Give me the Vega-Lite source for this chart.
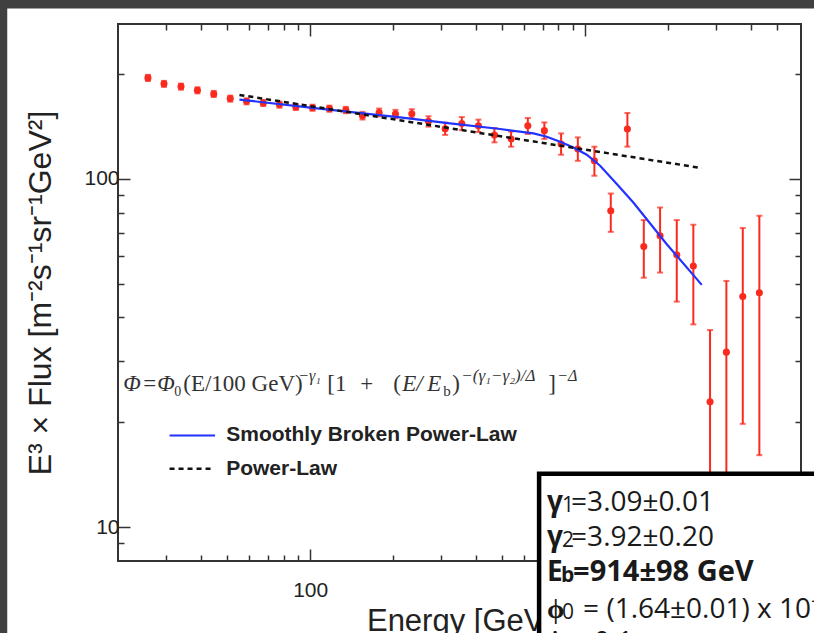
{
  "$schema": "https://vega.github.io/schema/vega-lite/v6.json",
  "width": 683,
  "height": 537,
  "autosize": "none",
  "padding": {"left": 118, "top": 24, "right": 13, "bottom": 72},
  "background": "white",
  "config": {"view": {"stroke": "#333333", "strokeWidth": 2}, "axis": {"grid": false}},
  "data": {"values": [{}]},
  "datasets": {
    "pts": [
      {"E": 25.7, "F": 194.7, "lo": 190.8, "hi": 198.6},
      {"E": 29.4, "F": 187.2, "lo": 183.5, "hi": 190.9},
      {"E": 33.9, "F": 183.8, "lo": 180.1, "hi": 187.5},
      {"E": 38.9, "F": 179.4, "lo": 175.8, "hi": 183.0},
      {"E": 44.6, "F": 175.1, "lo": 171.6, "hi": 178.6},
      {"E": 51.2, "F": 169.8, "lo": 166.4, "hi": 173.2},
      {"E": 58.7, "F": 166.8, "lo": 163.5, "hi": 170.1},
      {"E": 67.5, "F": 165.0, "lo": 161.7, "hi": 168.3},
      {"E": 77.3, "F": 163.2, "lo": 159.9, "hi": 166.5},
      {"E": 88.7, "F": 160.7, "lo": 157.5, "hi": 163.9},
      {"E": 102, "F": 159.9, "lo": 156.7, "hi": 163.1},
      {"E": 117.5, "F": 158.9, "lo": 155.7, "hi": 162.1},
      {"E": 134.8, "F": 157.5, "lo": 154.2, "hi": 160.8},
      {"E": 155, "F": 151.7, "lo": 147.9, "hi": 155.5},
      {"E": 178.2, "F": 155.0, "lo": 151.0, "hi": 159.0},
      {"E": 204.3, "F": 153.4, "lo": 149.2, "hi": 157.6},
      {"E": 234.3, "F": 153.7, "lo": 149.1, "hi": 158.3},
      {"E": 269.3, "F": 146.1, "lo": 141.1, "hi": 151.1},
      {"E": 309.7, "F": 139.2, "lo": 133.6, "hi": 144.8},
      {"E": 356.1, "F": 144.1, "lo": 137.9, "hi": 150.3},
      {"E": 409.3, "F": 142.0, "lo": 136.2, "hi": 147.8},
      {"E": 468, "F": 133.5, "lo": 127.2, "hi": 139.8},
      {"E": 538, "F": 130.1, "lo": 123.6, "hi": 136.6},
      {"E": 619, "F": 142.0, "lo": 134.4, "hi": 149.4},
      {"E": 711, "F": 137.4, "lo": 130.1, "hi": 145.1},
      {"E": 818, "F": 125.8, "lo": 117.2, "hi": 134.9},
      {"E": 941, "F": 121.7, "lo": 112.6, "hi": 131.4},
      {"E": 1081, "F": 112.6, "lo": 102.0, "hi": 123.6},
      {"E": 1240, "F": 80.9, "lo": 70.4, "hi": 90.7},
      {"E": 1425, "F": 138.9, "lo": 123.6, "hi": 154.4},
      {"E": 1635, "F": 63.9, "lo": 52.0, "hi": 76.1},
      {"E": 1874, "F": 68.6, "lo": 53.8, "hi": 82.7},
      {"E": 2155, "F": 60.5, "lo": 44.4, "hi": 76.1},
      {"E": 2476, "F": 56.2, "lo": 38.2, "hi": 73.8},
      {"E": 2848, "F": 22.9, "lo": 9.0, "hi": 36.8},
      {"E": 3265, "F": 31.8, "lo": 12.7, "hi": 50.9},
      {"E": 3746, "F": 45.9, "lo": 19.8, "hi": 72.2},
      {"E": 4304, "F": 47.1, "lo": 16.1, "hi": 78.3}
    ],
    "sbpl": [
      {"E": 55.3, "F": 168.7},
      {"E": 100, "F": 160.0},
      {"E": 212.4, "F": 150.0},
      {"E": 322.9, "F": 144.2},
      {"E": 490.9, "F": 138.9},
      {"E": 648.6, "F": 134.9},
      {"E": 725.6, "F": 132.0},
      {"E": 811.1, "F": 127.7},
      {"E": 907.1, "F": 123.0},
      {"E": 1014, "F": 117.2},
      {"E": 1134, "F": 109.0},
      {"E": 1304, "F": 96.6},
      {"E": 1498, "F": 85.5},
      {"E": 1982, "F": 64.9},
      {"E": 2657, "F": 49.6}
    ],
    "pl": [
      {"E": 55.3, "F": 174.0},
      {"E": 2657, "F": 107.3}
    ]
  },
  "resolve": {"axis": {"x": "independent", "y": "independent"}},
  "layer": [
    {
      "mark": {"type": "rect", "fill": "#404040"},
      "encoding": {
        "x": {"datum": 1, "type": "quantitative", "scale": {"type": "log", "domain": [20, 6100], "nice": false}, "axis": null},
        "x2": {"datum": 7.91},
        "y": {"datum": 2000, "type": "quantitative", "scale": {"type": "log", "domain": [8, 278], "nice": false}, "axis": null},
        "y2": {"datum": 0.1}
      }
    },
    {
      "mark": {"type": "rect", "fill": "#404040"},
      "encoding": {
        "x": {"datum": 1, "type": "quantitative", "scale": {"type": "log", "domain": [20, 6100], "nice": false}, "axis": null},
        "x2": {"datum": 1000000},
        "y": {"datum": 2000, "type": "quantitative", "scale": {"type": "log", "domain": [8, 278], "nice": false}, "axis": null},
        "y2": {"datum": 307.9}
      }
    },
    {
      "data": {"name": "pts"},
      "mark": {"type": "errorbar", "ticks": true, "color": "#fa2a1e", "thickness": 2, "size": 6},
      "encoding": {
        "x": {"field": "E", "type": "quantitative", "scale": {"type": "log", "domain": [20, 6100], "nice": false},
          "axis": {"orient": "bottom", "values": [30, 40, 50, 60, 70, 80, 90, 100, 200, 300, 400, 500, 600, 700, 800, 900, 1000, 2000, 3000, 4000, 5000],
            "labelExpr": "datum.value == 100 ? '100' : (datum.value == 1000 ? '1000' : '')",
            "tickSize": {"condition": {"test": "datum.value == 100 || datum.value == 1000", "value": -12}, "value": -6},
            "tickColor": "#333333", "tickWidth": 1.5, "domain": false, "grid": false,
            "labelFont": "Liberation Sans", "labelFontSize": 21, "labelColor": "#222222", "labelPadding": 30, "labelOverlap": false, "labelFlush": false, "labelBound": false,
            "title": "Energy [GeV]", "titleFont": "Liberation Sans", "titleFontSize": 31, "titleFontWeight": "normal", "titleColor": "#222222", "titlePadding": 0}},
        "y": {"field": "lo", "type": "quantitative", "scale": {"type": "log", "domain": [8, 278], "nice": false},
          "axis": {"orient": "left", "values": [9, 10, 20, 30, 40, 50, 60, 70, 80, 90, 100, 200],
            "labelExpr": "datum.value == 100 ? '100' : (datum.value == 10 ? '10' : '')",
            "tickSize": {"condition": {"test": "datum.value == 100 || datum.value == 10", "value": -12}, "value": -6},
            "tickColor": "#333333", "tickWidth": 1.5, "domain": false, "grid": false,
            "labelFont": "Liberation Sans", "labelFontSize": 21, "labelColor": "#222222", "labelPadding": 11, "labelOverlap": false, "labelFlush": false, "labelBound": false,
            "title": "E³ × Flux [m⁻²s⁻¹sr⁻¹GeV²]", "titleFont": "Liberation Sans", "titleFontSize": 32, "titleFontWeight": "normal", "titleColor": "#222222", "titlePadding": 26}},
        "y2": {"field": "hi"}
      }
    },
    {
      "data": {"name": "pts"},
      "mark": {"type": "point", "filled": true, "size": 50, "color": "#fa2a1e", "opacity": 1},
      "encoding": {
        "x": {"field": "E", "type": "quantitative", "scale": {"type": "log", "domain": [20, 6100], "nice": false},
          "axis": {"orient": "top", "values": [30, 40, 50, 60, 70, 80, 90, 100, 200, 300, 400, 500, 600, 700, 800, 900, 1000, 2000, 3000, 4000, 5000],
            "labels": false, "title": null, "domain": false, "grid": false,
            "tickSize": {"condition": {"test": "datum.value == 100 || datum.value == 1000", "value": -12}, "value": -6},
            "tickColor": "#333333", "tickWidth": 1.5}},
        "y": {"field": "F", "type": "quantitative", "scale": {"type": "log", "domain": [8, 278], "nice": false},
          "axis": {"orient": "right", "values": [9, 10, 20, 30, 40, 50, 60, 70, 80, 90, 100, 200],
            "labels": false, "title": null, "domain": false, "grid": false,
            "tickSize": {"condition": {"test": "datum.value == 100 || datum.value == 10", "value": -12}, "value": -6},
            "tickColor": "#333333", "tickWidth": 1.5}}
      }
    },
    {
      "data": {"name": "sbpl"},
      "mark": {"type": "line", "color": "#2233ff", "strokeWidth": 2.2},
      "encoding": {
        "x": {"field": "E", "type": "quantitative", "scale": {"type": "log", "domain": [20, 6100], "nice": false}, "axis": null},
        "y": {"field": "F", "type": "quantitative", "scale": {"type": "log", "domain": [8, 278], "nice": false}, "axis": null}
      }
    },
    {
      "data": {"name": "pl"},
      "mark": {"type": "line", "color": "#111111", "strokeWidth": 2.5, "strokeDash": [5, 4]},
      "encoding": {
        "x": {"field": "E", "type": "quantitative", "scale": {"type": "log", "domain": [20, 6100], "nice": false}, "axis": null},
        "y": {"field": "F", "type": "quantitative", "scale": {"type": "log", "domain": [8, 278], "nice": false}, "axis": null}
      }
    },
    {
      "mark": {"type": "rule", "color": "#2233ff", "strokeWidth": 2},
      "encoding": {
        "x": {"datum": 30.8, "type": "quantitative", "scale": {"type": "log", "domain": [20, 6100], "nice": false}, "axis": null},
        "x2": {"datum": 45.1},
        "y": {"datum": 18.34, "type": "quantitative", "scale": {"type": "log", "domain": [8, 278], "nice": false}, "axis": null}
      }
    },
    {
      "mark": {"type": "rule", "color": "#111111", "strokeWidth": 2.5, "strokeDash": [5, 4]},
      "encoding": {
        "x": {"datum": 30.8, "type": "quantitative", "scale": {"type": "log", "domain": [20, 6100], "nice": false}, "axis": null},
        "x2": {"datum": 43.9},
        "y": {"datum": 14.71, "type": "quantitative", "scale": {"type": "log", "domain": [8, 278], "nice": false}, "axis": null}
      }
    },
    {
      "mark": {"type": "text", "text": "Smoothly Broken Power-Law", "align": "left", "baseline": "middle", "font": "Liberation Sans", "fontSize": 21, "fontWeight": "bold", "color": "#222222"},
      "encoding": {
        "x": {"datum": 49.5, "type": "quantitative", "scale": {"type": "log", "domain": [20, 6100], "nice": false}, "axis": null},
        "y": {"datum": 18.34, "type": "quantitative", "scale": {"type": "log", "domain": [8, 278], "nice": false}, "axis": null}
      }
    },
    {
      "mark": {"type": "text", "text": "Power-Law", "align": "left", "baseline": "middle", "font": "Liberation Sans", "fontSize": 21, "fontWeight": "bold", "color": "#222222"},
      "encoding": {
        "x": {"datum": 49.5, "type": "quantitative", "scale": {"type": "log", "domain": [20, 6100], "nice": false}, "axis": null},
        "y": {"datum": 14.71, "type": "quantitative", "scale": {"type": "log", "domain": [8, 278], "nice": false}, "axis": null}
      }
    },
    {
      "mark": {"type": "text", "text": "Φ", "align": "left", "baseline": "alphabetic", "font": "Liberation Serif", "fontSize": 23, "fontStyle": "italic", "color": "#333333", "dx": -7},
      "encoding": {
        "x": {"datum": 22.16, "type": "quantitative", "scale": {"type": "log", "domain": [20, 6100], "nice": false}, "axis": null},
        "y": {"datum": 24.59, "type": "quantitative", "scale": {"type": "log", "domain": [8, 278], "nice": false}, "axis": null}
      }
    },
    {
      "mark": {"type": "text", "text": "=", "align": "left", "baseline": "alphabetic", "font": "Liberation Serif", "fontSize": 23, "color": "#333333", "dx": 13},
      "encoding": {
        "x": {"datum": 22.16, "type": "quantitative", "scale": {"type": "log", "domain": [20, 6100], "nice": false}, "axis": null},
        "y": {"datum": 24.59, "type": "quantitative", "scale": {"type": "log", "domain": [8, 278], "nice": false}, "axis": null}
      }
    },
    {
      "mark": {"type": "text", "text": "Φ", "align": "left", "baseline": "alphabetic", "font": "Liberation Serif", "fontSize": 23, "fontStyle": "italic", "color": "#333333", "dx": 27},
      "encoding": {
        "x": {"datum": 22.16, "type": "quantitative", "scale": {"type": "log", "domain": [20, 6100], "nice": false}, "axis": null},
        "y": {"datum": 24.59, "type": "quantitative", "scale": {"type": "log", "domain": [8, 278], "nice": false}, "axis": null}
      }
    },
    {
      "mark": {"type": "text", "text": "0", "align": "left", "baseline": "alphabetic", "font": "Liberation Serif", "fontSize": 14, "color": "#333333", "dx": 44, "dy": 5},
      "encoding": {
        "x": {"datum": 22.16, "type": "quantitative", "scale": {"type": "log", "domain": [20, 6100], "nice": false}, "axis": null},
        "y": {"datum": 24.59, "type": "quantitative", "scale": {"type": "log", "domain": [8, 278], "nice": false}, "axis": null}
      }
    },
    {
      "mark": {"type": "text", "text": "(E/100 GeV)", "align": "left", "baseline": "alphabetic", "font": "Liberation Serif", "fontSize": 23, "color": "#333333", "dx": 53},
      "encoding": {
        "x": {"datum": 22.16, "type": "quantitative", "scale": {"type": "log", "domain": [20, 6100], "nice": false}, "axis": null},
        "y": {"datum": 24.59, "type": "quantitative", "scale": {"type": "log", "domain": [8, 278], "nice": false}, "axis": null}
      }
    },
    {
      "mark": {"type": "text", "text": "−γ₁", "align": "left", "baseline": "alphabetic", "font": "Liberation Serif", "fontSize": 16, "fontStyle": "italic", "color": "#333333", "dx": 168, "dy": -10},
      "encoding": {
        "x": {"datum": 22.16, "type": "quantitative", "scale": {"type": "log", "domain": [20, 6100], "nice": false}, "axis": null},
        "y": {"datum": 24.59, "type": "quantitative", "scale": {"type": "log", "domain": [8, 278], "nice": false}, "axis": null}
      }
    },
    {
      "mark": {"type": "text", "text": "[1", "align": "left", "baseline": "alphabetic", "font": "Liberation Serif", "fontSize": 23, "color": "#333333", "dx": 197},
      "encoding": {
        "x": {"datum": 22.16, "type": "quantitative", "scale": {"type": "log", "domain": [20, 6100], "nice": false}, "axis": null},
        "y": {"datum": 24.59, "type": "quantitative", "scale": {"type": "log", "domain": [8, 278], "nice": false}, "axis": null}
      }
    },
    {
      "mark": {"type": "text", "text": "+", "align": "left", "baseline": "alphabetic", "font": "Liberation Serif", "fontSize": 23, "color": "#333333", "dx": 230},
      "encoding": {
        "x": {"datum": 22.16, "type": "quantitative", "scale": {"type": "log", "domain": [20, 6100], "nice": false}, "axis": null},
        "y": {"datum": 24.59, "type": "quantitative", "scale": {"type": "log", "domain": [8, 278], "nice": false}, "axis": null}
      }
    },
    {
      "mark": {"type": "text", "text": "(", "align": "left", "baseline": "alphabetic", "font": "Liberation Serif", "fontSize": 23, "color": "#333333", "dx": 263},
      "encoding": {
        "x": {"datum": 22.16, "type": "quantitative", "scale": {"type": "log", "domain": [20, 6100], "nice": false}, "axis": null},
        "y": {"datum": 24.59, "type": "quantitative", "scale": {"type": "log", "domain": [8, 278], "nice": false}, "axis": null}
      }
    },
    {
      "mark": {"type": "text", "text": "E/", "align": "left", "baseline": "alphabetic", "font": "Liberation Serif", "fontSize": 23, "fontStyle": "italic", "color": "#333333", "dx": 272},
      "encoding": {
        "x": {"datum": 22.16, "type": "quantitative", "scale": {"type": "log", "domain": [20, 6100], "nice": false}, "axis": null},
        "y": {"datum": 24.59, "type": "quantitative", "scale": {"type": "log", "domain": [8, 278], "nice": false}, "axis": null}
      }
    },
    {
      "mark": {"type": "text", "text": "E", "align": "left", "baseline": "alphabetic", "font": "Liberation Serif", "fontSize": 23, "fontStyle": "italic", "color": "#333333", "dx": 297},
      "encoding": {
        "x": {"datum": 22.16, "type": "quantitative", "scale": {"type": "log", "domain": [20, 6100], "nice": false}, "axis": null},
        "y": {"datum": 24.59, "type": "quantitative", "scale": {"type": "log", "domain": [8, 278], "nice": false}, "axis": null}
      }
    },
    {
      "mark": {"type": "text", "text": "b", "align": "left", "baseline": "alphabetic", "font": "Liberation Serif", "fontSize": 15, "color": "#333333", "dx": 313, "dy": 5},
      "encoding": {
        "x": {"datum": 22.16, "type": "quantitative", "scale": {"type": "log", "domain": [20, 6100], "nice": false}, "axis": null},
        "y": {"datum": 24.59, "type": "quantitative", "scale": {"type": "log", "domain": [8, 278], "nice": false}, "axis": null}
      }
    },
    {
      "mark": {"type": "text", "text": ")", "align": "left", "baseline": "alphabetic", "font": "Liberation Serif", "fontSize": 23, "color": "#333333", "dx": 322},
      "encoding": {
        "x": {"datum": 22.16, "type": "quantitative", "scale": {"type": "log", "domain": [20, 6100], "nice": false}, "axis": null},
        "y": {"datum": 24.59, "type": "quantitative", "scale": {"type": "log", "domain": [8, 278], "nice": false}, "axis": null}
      }
    },
    {
      "mark": {"type": "text", "text": "−(γ₁−γ₂)/Δ", "align": "left", "baseline": "alphabetic", "font": "Liberation Serif", "fontSize": 17, "fontStyle": "italic", "color": "#333333", "dx": 331, "dy": -10},
      "encoding": {
        "x": {"datum": 22.16, "type": "quantitative", "scale": {"type": "log", "domain": [20, 6100], "nice": false}, "axis": null},
        "y": {"datum": 24.59, "type": "quantitative", "scale": {"type": "log", "domain": [8, 278], "nice": false}, "axis": null}
      }
    },
    {
      "mark": {"type": "text", "text": "]", "align": "left", "baseline": "alphabetic", "font": "Liberation Serif", "fontSize": 23, "color": "#333333", "dx": 418},
      "encoding": {
        "x": {"datum": 22.16, "type": "quantitative", "scale": {"type": "log", "domain": [20, 6100], "nice": false}, "axis": null},
        "y": {"datum": 24.59, "type": "quantitative", "scale": {"type": "log", "domain": [8, 278], "nice": false}, "axis": null}
      }
    },
    {
      "mark": {"type": "text", "text": "−Δ", "align": "left", "baseline": "alphabetic", "font": "Liberation Serif", "fontSize": 16, "fontStyle": "italic", "color": "#333333", "dx": 427, "dy": -10},
      "encoding": {
        "x": {"datum": 22.16, "type": "quantitative", "scale": {"type": "log", "domain": [20, 6100], "nice": false}, "axis": null},
        "y": {"datum": 24.59, "type": "quantitative", "scale": {"type": "log", "domain": [8, 278], "nice": false}, "axis": null}
      }
    },
    {
      "mark": {"type": "rect", "fill": "white", "stroke": "#000000", "strokeWidth": 4.5},
      "encoding": {
        "x": {"datum": 680.3, "type": "quantitative", "scale": {"type": "log", "domain": [20, 6100], "nice": false}, "axis": null},
        "x2": {"datum": 1000000},
        "y": {"datum": 14.25, "type": "quantitative", "scale": {"type": "log", "domain": [8, 278], "nice": false}, "axis": null},
        "y2": {"datum": 0.01}
      }
    },
    {
      "mark": {"type": "text", "text": "γ", "align": "left", "baseline": "alphabetic", "font": "Open Sans", "fontSize": 28, "fontWeight": "bold", "color": "#1a1a1a", "dx": 0},
      "encoding": {
        "x": {"datum": 727.5, "type": "quantitative", "scale": {"type": "log", "domain": [20, 6100], "nice": false}, "axis": null},
        "y": {"datum": 11.12, "type": "quantitative", "scale": {"type": "log", "domain": [8, 278], "nice": false}, "axis": null}
      }
    },
    {
      "mark": {"type": "text", "text": "1", "align": "left", "baseline": "alphabetic", "font": "Open Sans", "fontSize": 21, "color": "#1a1a1a", "dx": 15, "dy": 1},
      "encoding": {
        "x": {"datum": 727.5, "type": "quantitative", "scale": {"type": "log", "domain": [20, 6100], "nice": false}, "axis": null},
        "y": {"datum": 11.12, "type": "quantitative", "scale": {"type": "log", "domain": [8, 278], "nice": false}, "axis": null}
      }
    },
    {
      "mark": {"type": "text", "text": "=3.09±0.01", "align": "left", "baseline": "alphabetic", "font": "Open Sans", "fontSize": 28, "color": "#1a1a1a", "dx": 24},
      "encoding": {
        "x": {"datum": 727.5, "type": "quantitative", "scale": {"type": "log", "domain": [20, 6100], "nice": false}, "axis": null},
        "y": {"datum": 11.12, "type": "quantitative", "scale": {"type": "log", "domain": [8, 278], "nice": false}, "axis": null}
      }
    },
    {
      "mark": {"type": "text", "text": "γ", "align": "left", "baseline": "alphabetic", "font": "Open Sans", "fontSize": 28, "fontWeight": "bold", "color": "#1a1a1a", "dx": 0},
      "encoding": {
        "x": {"datum": 727.5, "type": "quantitative", "scale": {"type": "log", "domain": [20, 6100], "nice": false}, "axis": null},
        "y": {"datum": 8.82, "type": "quantitative", "scale": {"type": "log", "domain": [8, 278], "nice": false}, "axis": null}
      }
    },
    {
      "mark": {"type": "text", "text": "2", "align": "left", "baseline": "alphabetic", "font": "Open Sans", "fontSize": 21, "color": "#1a1a1a", "dx": 15, "dy": 1},
      "encoding": {
        "x": {"datum": 727.5, "type": "quantitative", "scale": {"type": "log", "domain": [20, 6100], "nice": false}, "axis": null},
        "y": {"datum": 8.82, "type": "quantitative", "scale": {"type": "log", "domain": [8, 278], "nice": false}, "axis": null}
      }
    },
    {
      "mark": {"type": "text", "text": "=3.92±0.20", "align": "left", "baseline": "alphabetic", "font": "Open Sans", "fontSize": 28, "color": "#1a1a1a", "dx": 24},
      "encoding": {
        "x": {"datum": 727.5, "type": "quantitative", "scale": {"type": "log", "domain": [20, 6100], "nice": false}, "axis": null},
        "y": {"datum": 8.82, "type": "quantitative", "scale": {"type": "log", "domain": [8, 278], "nice": false}, "axis": null}
      }
    },
    {
      "mark": {"type": "text", "text": "E", "align": "left", "baseline": "alphabetic", "font": "Open Sans", "fontSize": 28, "fontWeight": "bold", "color": "#1a1a1a", "dx": 0},
      "encoding": {
        "x": {"datum": 727.5, "type": "quantitative", "scale": {"type": "log", "domain": [20, 6100], "nice": false}, "axis": null},
        "y": {"datum": 6.99, "type": "quantitative", "scale": {"type": "log", "domain": [8, 278], "nice": false}, "axis": null}
      }
    },
    {
      "mark": {"type": "text", "text": "b", "align": "left", "baseline": "alphabetic", "font": "Open Sans", "fontSize": 21, "fontWeight": "bold", "color": "#1a1a1a", "dx": 14, "dy": 1},
      "encoding": {
        "x": {"datum": 727.5, "type": "quantitative", "scale": {"type": "log", "domain": [20, 6100], "nice": false}, "axis": null},
        "y": {"datum": 6.99, "type": "quantitative", "scale": {"type": "log", "domain": [8, 278], "nice": false}, "axis": null}
      }
    },
    {
      "mark": {"type": "text", "text": "=914±98 GeV", "align": "left", "baseline": "alphabetic", "font": "Open Sans", "fontSize": 29, "fontWeight": "bold", "color": "#1a1a1a", "dx": 26},
      "encoding": {
        "x": {"datum": 727.5, "type": "quantitative", "scale": {"type": "log", "domain": [20, 6100], "nice": false}, "axis": null},
        "y": {"datum": 6.99, "type": "quantitative", "scale": {"type": "log", "domain": [8, 278], "nice": false}, "axis": null}
      }
    },
    {
      "mark": {"type": "text", "text": "ϕ", "align": "left", "baseline": "alphabetic", "font": "Open Sans", "fontSize": 28, "fontWeight": "bold", "color": "#1a1a1a", "dx": 0},
      "encoding": {
        "x": {"datum": 727.5, "type": "quantitative", "scale": {"type": "log", "domain": [20, 6100], "nice": false}, "axis": null},
        "y": {"datum": 5.48, "type": "quantitative", "scale": {"type": "log", "domain": [8, 278], "nice": false}, "axis": null}
      }
    },
    {
      "mark": {"type": "text", "text": "0", "align": "left", "baseline": "alphabetic", "font": "Open Sans", "fontSize": 21, "color": "#1a1a1a", "dx": 15, "dy": 1},
      "encoding": {
        "x": {"datum": 727.5, "type": "quantitative", "scale": {"type": "log", "domain": [20, 6100], "nice": false}, "axis": null},
        "y": {"datum": 5.48, "type": "quantitative", "scale": {"type": "log", "domain": [8, 278], "nice": false}, "axis": null}
      }
    },
    {
      "mark": {"type": "text", "text": "= (1.64±0.01) x 10⁻⁴ m⁻²s⁻¹sr⁻¹GeV⁻¹", "align": "left", "baseline": "alphabetic", "font": "Open Sans", "fontSize": 28, "color": "#1a1a1a", "dx": 36},
      "encoding": {
        "x": {"datum": 727.5, "type": "quantitative", "scale": {"type": "log", "domain": [20, 6100], "nice": false}, "axis": null},
        "y": {"datum": 5.48, "type": "quantitative", "scale": {"type": "log", "domain": [8, 278], "nice": false}, "axis": null}
      }
    },
    {
      "mark": {"type": "text", "text": "Δ = 0.1", "align": "left", "baseline": "alphabetic", "font": "Open Sans", "fontSize": 28, "color": "#1a1a1a", "dx": 0},
      "encoding": {
        "x": {"datum": 727.5, "type": "quantitative", "scale": {"type": "log", "domain": [20, 6100], "nice": false}, "axis": null},
        "y": {"datum": 4.40, "type": "quantitative", "scale": {"type": "log", "domain": [8, 278], "nice": false}, "axis": null}
      }
    }
  ]
}
